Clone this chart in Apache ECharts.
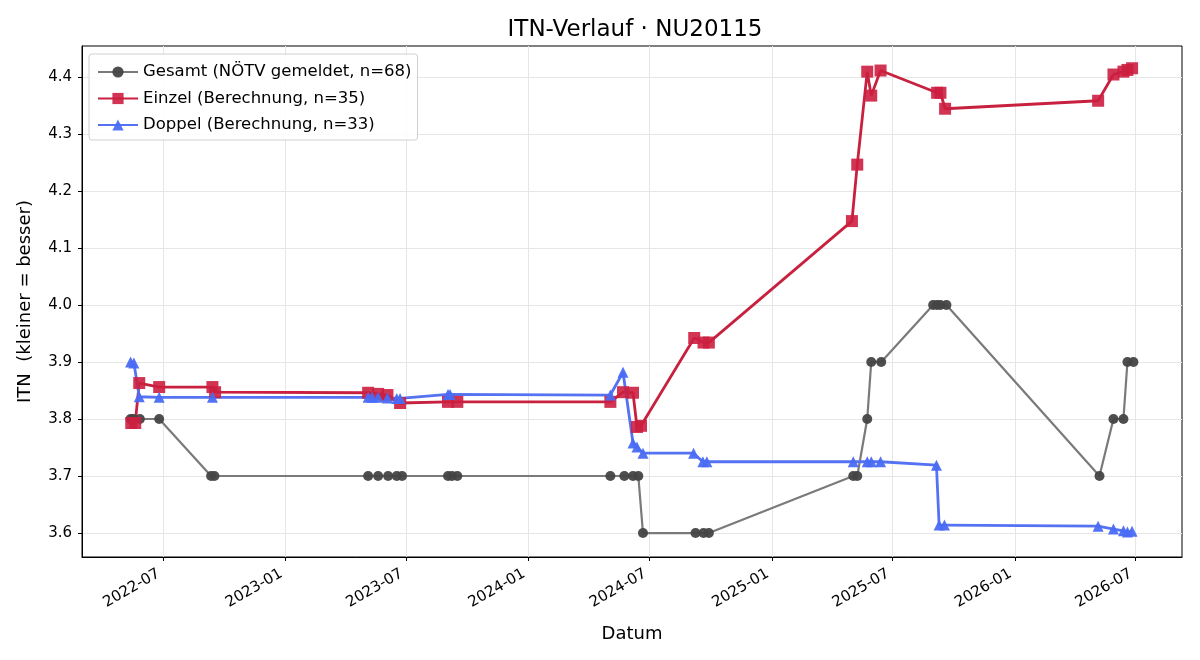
<!DOCTYPE html>
<html>
<head>
<meta charset="utf-8">
<title>ITN-Verlauf</title>
<script src="https://cdn.jsdelivr.net/npm/echarts@6/dist/echarts.min.js"></script>
<style>
  html, body { margin: 0; padding: 0; background: #fff; }
  #chart { width: 1200px; height: 660px; }
</style>
</head>
<body>
<div id="chart"></div>
<script>
// Gesamt (NÖTV gemeldet)
var gesamtDates = ['2022-05-13','2022-05-17','2022-05-27','2022-06-25','2022-09-11','2022-09-16',
  '2023-05-05','2023-05-20','2023-06-04','2023-06-17','2023-06-25','2023-09-02','2023-09-08','2023-09-16',
  '2024-05-03','2024-05-24','2024-06-06','2024-06-14','2024-06-21','2024-09-08','2024-09-20','2024-09-28',
  '2025-05-03','2025-05-09','2025-05-24','2025-05-30','2025-06-14','2025-08-31','2025-09-06','2025-09-11','2025-09-20',
  '2026-05-08','2026-05-29','2026-06-13','2026-06-19','2026-06-28'];
var gesamtVals = [3.8,3.8,3.8,3.8,3.7,3.7,
  3.7,3.7,3.7,3.7,3.7,3.7,3.7,3.7,
  3.7,3.7,3.7,3.7,3.6,3.6,3.6,3.6,
  3.7,3.7,3.8,3.9,3.9,4.0,4.0,4.0,4.0,
  3.7,3.8,3.8,3.9,3.9];

// Einzel (Berechnung)
var einzelDates = ['2022-05-14','2022-05-20','2022-05-26','2022-06-25','2022-09-13','2022-09-17',
  '2023-05-05','2023-05-20','2023-06-03','2023-06-22','2023-09-02','2023-09-16',
  '2024-05-03','2024-05-22','2024-06-06','2024-06-12','2024-06-18','2024-09-06','2024-09-20','2024-09-28',
  '2025-05-01','2025-05-09','2025-05-24','2025-05-30','2025-06-13','2025-09-06','2025-09-11','2025-09-18',
  '2026-05-06','2026-05-29','2026-06-13','2026-06-19','2026-06-26'];
var einzelVals = [3.793,3.793,3.863,3.856,3.856,3.847,
  3.846,3.844,3.842,3.828,3.830,3.830,
  3.830,3.847,3.846,3.786,3.788,3.942,3.934,3.934,
  4.147,4.246,4.409,4.367,4.411,4.372,4.372,4.344,
  4.358,4.404,4.409,4.412,4.415];

// Doppel (Berechnung)
var doppelDates = ['2022-05-13','2022-05-18','2022-05-26','2022-06-25','2022-09-13',
  '2023-05-05','2023-05-11','2023-05-20','2023-06-03','2023-06-17','2023-06-22','2023-09-02','2023-09-05',
  '2024-05-03','2024-05-22','2024-06-06','2024-06-12','2024-06-21','2024-09-05','2024-09-19','2024-09-25',
  '2025-05-03','2025-05-24','2025-05-30','2025-06-13','2025-09-05','2025-09-09','2025-09-17',
  '2026-05-06','2026-05-29','2026-06-13','2026-06-19','2026-06-26'];
var doppelVals = [3.900,3.898,3.839,3.838,3.838,
  3.838,3.838,3.838,3.837,3.836,3.836,3.843,3.843,
  3.842,3.882,3.758,3.751,3.740,3.740,3.725,3.725,
  3.725,3.725,3.725,3.725,3.719,3.614,3.614,
  3.612,3.607,3.604,3.602,3.603];

var xTicks = ['2022-07-01','2023-01-01','2023-07-01','2024-01-01','2024-07-01','2025-01-01','2025-07-01','2026-01-01','2026-07-01'];
var yTicks = [3.6, 3.7, 3.8, 3.9, 4.0, 4.1, 4.2, 4.3, 4.4];

var font = 'DejaVu Sans';

// date string -> timestamp (UTC)
function ts(s) {
  var p = s.split('-');
  return Date.UTC(+p[0], +p[1] - 1, +p[2]);
}
function pairs(dates, vals) {
  return dates.map(function (d, i) { return [ts(d), vals[i]]; });
}

var myChart = echarts.init(document.getElementById('chart'));
var option = {
  animation: false,
  backgroundColor: '#fff',
  textStyle: { fontFamily: font },
  title: {
    text: 'ITN-Verlauf · NU20115',
    left: 630,
    textAlign: 'center',
    top: 14,
    textStyle: { fontFamily: font, fontSize: 23, fontWeight: 'normal', color: '#000' }
  },
  grid: {
    left: 82, right: 18, top: 46, bottom: 103,
    show: true, borderColor: '#000', borderWidth: 1
  },
  legend: {
    orient: 'vertical',
    left: 89, top: 54,
    padding: [9, 6, 6, 8],
    itemGap: 8.5,
    itemWidth: 40,
    itemHeight: 14,
    backgroundColor: 'rgba(255,255,255,0.85)',
    borderColor: '#d0d0d0',
    borderWidth: 1,
    borderRadius: 3,
    textStyle: { fontFamily: font, fontSize: 16.5, color: '#000', lineHeight: 18 },
    data: ['Gesamt (NÖTV gemeldet, n=68)', 'Einzel (Berechnung, n=35)', 'Doppel (Berechnung, n=33)']
  },
  xAxis: {
    type: 'value',
    min: ts('2022-03-01'),
    max: ts('2026-09-09'),
    name: 'Datum',
    nameLocation: 'middle',
    nameGap: 68,
    nameTextStyle: { fontFamily: font, fontSize: 18, color: '#000' },
    axisLine: { show: true, lineStyle: { color: '#000', width: 1 } },
    axisTick: { show: true, length: 4, customValues: xTicks.map(ts), lineStyle: { color: '#000' } },
    axisLabel: {
      customValues: xTicks.map(ts),
      rotate: 30,
      margin: 13,
      padding: [0, 5, 0, 0],
      fontFamily: font, fontSize: 15, color: '#000',
      formatter: function (v) {
        var d = new Date(v);
        return d.getUTCFullYear() + '-' + String(d.getUTCMonth() + 1).padStart(2, '0');
      }
    },
    splitLine: { show: true, lineStyle: { color: '#e6e6e6', width: 1 } }
  },
  yAxis: {
    type: 'value',
    min: 3.558,
    max: 4.454,
    name: 'ITN  (kleiner = besser)',
    nameLocation: 'middle',
    nameGap: 48,
    nameTextStyle: { fontFamily: font, fontSize: 18, color: '#000' },
    axisLine: { show: true, lineStyle: { color: '#000', width: 1 } },
    axisTick: { show: true, length: 4, customValues: yTicks, lineStyle: { color: '#000' } },
    axisLabel: {
      customValues: yTicks,
      margin: 10,
      fontFamily: font, fontSize: 15, color: '#000',
      formatter: function (v) { return v.toFixed(1); }
    },
    splitLine: { show: true, lineStyle: { color: '#e6e6e6', width: 1 } }
  },
  series: [
    {
      name: 'Gesamt (NÖTV gemeldet, n=68)',
      type: 'line',
      data: pairs(gesamtDates, gesamtVals),
      symbol: 'circle',
      symbolSize: 10,
      showAllSymbol: true,
      lineStyle: { color: '#7a7a7a', width: 2.2 },
      itemStyle: { color: '#444', opacity: 0.95 }
    },
    {
      name: 'Einzel (Berechnung, n=35)',
      type: 'line',
      data: pairs(einzelDates, einzelVals),
      symbol: 'rect',
      symbolSize: 12,
      showAllSymbol: true,
      lineStyle: { color: '#c8213f', width: 2.8 },
      itemStyle: { color: '#cc1f40', opacity: 0.9 }
    },
    {
      name: 'Doppel (Berechnung, n=33)',
      type: 'line',
      data: pairs(doppelDates, doppelVals),
      symbol: 'triangle',
      symbolSize: 11,
      showAllSymbol: true,
      lineStyle: { color: '#5572f2', width: 2.8 },
      itemStyle: { color: '#4a6cf4', opacity: 0.95 }
    }
  ]
};
myChart.setOption(option);
</script>
</body>
</html>
